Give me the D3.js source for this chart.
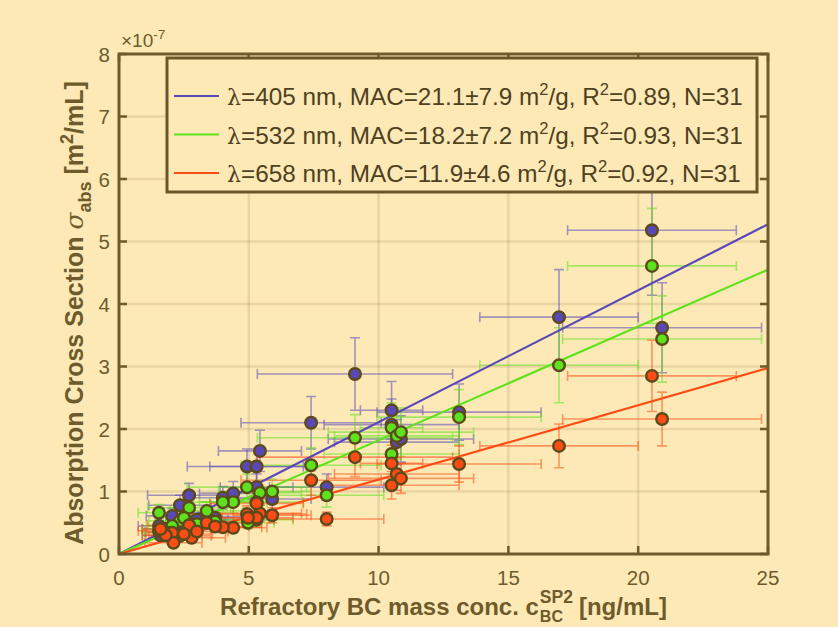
<!DOCTYPE html>
<html>
<head>
<meta charset="utf-8">
<script src="https://cdn.jsdelivr.net/npm/d3@7"></script>
<style>
  html, body { margin: 0; padding: 0; background: #fde9b6; }
  svg { display: block; }
  text { font-family: "Liberation Sans", Arial, Helvetica, sans-serif; }
</style>
</head>
<body>
<svg id="chart" width="838" height="627"></svg>
<script>
// Refractory BC mass concentration (ng/mL) and its uncertainty
const bcConc = [20.53, 20.92, 16.95, 13.10, 9.09, 10.50, 10.50, 10.70, 10.86, 7.40, 8.00,
                5.43, 4.93, 5.30, 5.30, 5.90, 4.40, 4.00, 2.70, 2.35, 1.54, 2.05, 2.10,
                3.38, 2.80, 4.97, 1.80, 3.00, 1.60, 3.70, 2.50];
const bcErr  = [3.25, 3.83, 3.05, 3.16, 3.76, 1.20, 2.60, 2.40, 2.80, 2.70, 2.20,
                1.60, 2.30, 1.80, 1.40, 1.50, 1.30, 1.50, 1.60, 1.20, 0.80, 1.00, 1.10,
                1.40, 1.30, 1.00, 0.90, 1.20, 0.70, 1.30, 1.10];

// Absorption cross section (x1e-7 m^2/mL) per wavelength
const abs405 = [5.18, 3.62, 3.79, 2.27, 2.88, 2.30, 2.07, 1.79, 1.84, 2.10, 1.07,
                1.65, 1.40, 1.40, 1.07, 0.88, 0.97, 0.90, 0.94, 0.78, 0.45, 0.61, 0.35,
                0.60, 0.50, 0.55, 0.40, 0.55, 0.30, 0.58, 0.45];
const err405 = [1.04, 0.72, 0.76, 0.45, 0.58, 0.46, 0.41, 0.36, 0.37, 0.42, 0.21,
                0.33, 0.28, 0.28, 0.21, 0.18, 0.19, 0.18, 0.19, 0.16, 0.09, 0.12, 0.07,
                0.12, 0.10, 0.11, 0.08, 0.11, 0.06, 0.12, 0.09];
const abs532 = [4.61, 3.44, 3.02, 2.19, 1.86, 2.02, 1.60, 1.89, 1.95, 1.42, 0.94,
                0.98, 1.07, 0.83, 0.55, 1.00, 0.83, 0.83, 0.74, 0.53, 0.66, 0.45, 0.30,
                0.69, 0.40, 0.50, 0.35, 0.48, 0.40, 0.52, 0.58];
const err532 = [0.92, 0.69, 0.60, 0.44, 0.37, 0.40, 0.32, 0.38, 0.39, 0.28, 0.19,
                0.20, 0.21, 0.17, 0.11, 0.20, 0.17, 0.17, 0.15, 0.11, 0.13, 0.09, 0.06,
                0.14, 0.08, 0.10, 0.07, 0.10, 0.08, 0.10, 0.12];
const abs658 = [2.85, 2.16, 1.73, 1.44, 1.55, 1.45, 1.10, 1.28, 1.21, 1.18, 0.56,
                0.65, 0.64, 0.81, 0.58, 0.62, 0.42, 0.43, 0.46, 0.29, 0.37, 0.34, 0.18,
                0.50, 0.26, 0.58, 0.30, 0.36, 0.40, 0.44, 0.32];
const err658 = [0.57, 0.43, 0.35, 0.29, 0.31, 0.29, 0.22, 0.26, 0.24, 0.24, 0.11,
                0.13, 0.13, 0.16, 0.12, 0.12, 0.08, 0.09, 0.09, 0.06, 0.07, 0.07, 0.04,
                0.10, 0.05, 0.12, 0.06, 0.07, 0.08, 0.09, 0.06];

// Fitted mass absorption cross sections (m^2/g) and fit statistics
const wavelengths = [405, 532, 658];
const macValues   = [21.1, 18.2, 11.9];
const macErrors   = [7.9, 7.2, 4.6];
const r2Values    = [0.89, 0.93, 0.92];
const nValues     = [31, 31, 31];

const xTicks = [0, 5, 10, 15, 20, 25];
const yTicks = [0, 1, 2, 3, 4, 5, 6, 7, 8];

const colors = ["#5a48b8", "#5ee21c", "#ff4c14"];
const series = [
  { y: abs405, e: err405 },
  { y: abs532, e: err532 },
  { y: abs658, e: err658 }
];

const ink = "#6e5b2c";
const margin = { left: 119, right: 838 - 768, top: 54, bottom: 627 - 554 };
const W = 838, H = 627;

const svg = d3.select("#chart");
const x = d3.scaleLinear().domain([0, 25]).range([margin.left, W - margin.right]);
const y = d3.scaleLinear().domain([0, 8]).range([H - margin.bottom, margin.top]);

// grid
const grid = svg.append("g");
grid.selectAll(".gx").data(xTicks.slice(1, -1)).join("line")
  .attr("x1", d => x(d)).attr("x2", d => x(d))
  .attr("y1", y(0)).attr("y2", y(8))
  .attr("stroke", "#8a7a50").attr("stroke-opacity", 0.18).attr("stroke-width", 2.5);
grid.selectAll(".gy").data(yTicks.slice(1, -1)).join("line")
  .attr("y1", d => y(d)).attr("y2", d => y(d))
  .attr("x1", x(0)).attr("x2", x(25))
  .attr("stroke", "#8a7a50").attr("stroke-opacity", 0.18).attr("stroke-width", 2.5);

// error bars
const cap = 5;
series.forEach((s, k) => {
  const g = svg.append("g")
    .attr("stroke", colors[k]).attr("stroke-opacity", 0.55)
    .attr("stroke-width", 1.6).attr("fill", "none");
  bcConc.forEach((c, i) => {
    const cy = y(s.y[i]);
    const xl = x(c - bcErr[i]), xr = x(c + bcErr[i]);
    const yt = y(s.y[i] + s.e[i]), yb = y(s.y[i] - s.e[i]);
    const cx = x(c);
    g.append("path").attr("d",
      `M${xl},${cy}H${xr}M${xl},${cy - cap}V${cy + cap}M${xr},${cy - cap}V${cy + cap}` +
      `M${cx},${yt}V${yb}M${cx - cap},${yt}H${cx + cap}M${cx - cap},${yb}H${cx + cap}`);
  });
});

// fit lines through the origin
const fitLine = d3.line().x(d => x(d[0])).y(d => y(d[1]));
macValues.forEach((m, k) => {
  // MAC [m^2/g] * c [ng/mL] = sigma in 1e-9 m^2/mL -> 1e-7 units
  const pts = [[0, 0], [25, m * 25 / 100]];
  svg.append("path").attr("d", fitLine(pts))
    .attr("stroke", colors[k]).attr("stroke-width", 2.2).attr("fill", "none");
});

// markers
series.forEach((s, k) => {
  svg.append("g").selectAll("circle").data(bcConc).join("circle")
    .attr("cx", d => x(d)).attr("cy", (d, i) => y(s.y[i])).attr("r", 5.8)
    .attr("fill", colors[k]).attr("stroke", "#5c4a1c").attr("stroke-width", 2.4);
});

// axes box and ticks
const axisG = svg.append("g");
const tl = 8;
axisG.selectAll(".tx").data(xTicks).join("path")
  .attr("d", d => `M${x(d)},${y(0)}V${y(0) - tl}M${x(d)},${y(8)}V${y(8) + tl}`)
  .attr("stroke", ink).attr("stroke-width", 2.5);
axisG.selectAll(".ty").data(yTicks).join("path")
  .attr("d", d => `M${x(0)},${y(d)}H${x(0) + tl}M${x(25)},${y(d)}H${x(25) - tl}`)
  .attr("stroke", ink).attr("stroke-width", 2.5);
axisG.append("rect")
  .attr("x", x(0)).attr("y", y(8)).attr("width", x(25) - x(0)).attr("height", y(0) - y(8))
  .attr("fill", "none").attr("stroke", ink).attr("stroke-width", 3);

// tick labels
svg.append("g").selectAll("text").data(xTicks).join("text")
  .attr("x", d => x(d)).attr("y", y(0) + 31)
  .attr("text-anchor", "middle").attr("font-size", 20.5).attr("fill", ink)
  .text(d => d);
svg.append("g").selectAll("text").data(yTicks).join("text")
  .attr("x", x(0) - 9).attr("y", d => y(d) + 7.5)
  .attr("text-anchor", "end").attr("font-size", 20.5).attr("fill", ink)
  .text(d => d);

// exponent marker
const ex = svg.append("text").attr("x", x(0) + 2).attr("y", y(8) - 7)
  .attr("font-size", 19).attr("fill", ink);
ex.append("tspan").text("\u00d710");
ex.append("tspan").attr("dy", -8).attr("font-size", 13.5).text("-7");

// x axis title
const xt = svg.append("g").attr("fill", ink).attr("font-weight", "bold");
const xMain = xt.append("text").attr("y", 615).attr("font-size", 24).text("Refractory BC mass conc. c");
const mainW = xMain.node().getComputedTextLength();
const supT = xt.append("text").attr("y", 603).attr("font-size", 17.5).text("SP2");
const supW = supT.node().getComputedTextLength();
const subT = xt.append("text").attr("y", 622).attr("font-size", 16).text("BC");
const gap = 7;
const tailT = xt.append("text").attr("y", 615).attr("font-size", 24).text("[ng/mL]");
const tailW = tailT.node().getComputedTextLength();
const totalW = mainW + supW + gap + tailW;
const x0 = (x(0) + x(25)) / 2 - totalW / 2;
xMain.attr("x", x0);
supT.attr("x", x0 + mainW + 1);
subT.attr("x", x0 + mainW + 1);
tailT.attr("x", x0 + mainW + supW + gap);

// y axis title
const yt = svg.append("text")
  .attr("transform", `translate(83,${(y(0) + y(8)) / 2 + 9}) rotate(-90)`)
  .attr("text-anchor", "middle").attr("font-size", 25).attr("font-weight", "bold")
  .attr("fill", ink);
yt.append("tspan").text("Absorption Cross Section ");
yt.append("tspan").attr("font-weight", "normal").attr("font-style", "italic")
  .attr("font-family", "DejaVu Serif, serif").text("\u03c3");
yt.append("tspan").attr("dy", 8).attr("font-size", 18).text("abs");
yt.append("tspan").attr("dy", -8).text(" [m");
yt.append("tspan").attr("dy", -10).attr("font-size", 18).text("2");
yt.append("tspan").attr("dy", 10).text("/mL]");

// legend
const lg = svg.append("g");
lg.append("rect").attr("x", 167).attr("y", 58).attr("width", 590).attr("height", 134)
  .attr("fill", "#fde9b6").attr("stroke", "#6a5628").attr("stroke-width", 3);
wavelengths.forEach((w, k) => {
  const ry = 96 + k * 38.5;
  lg.append("line").attr("x1", 174).attr("x2", 219).attr("y1", ry).attr("y2", ry)
    .attr("stroke", colors[k]).attr("stroke-width", 2.2);
  const t = lg.append("text").attr("x", 227).attr("y", ry + 9)
    .attr("font-size", 24.3).attr("fill", "#4e4120");
  t.append("tspan").attr("font-family", "DejaVu Serif, serif").attr("font-size", 22).text("\u03bb");
  t.append("tspan").text(`=${w} nm, MAC=${macValues[k].toFixed(1)}\u00b1${macErrors[k].toFixed(1)} m`);
  t.append("tspan").attr("dy", -10).attr("font-size", 16.5).text("2");
  t.append("tspan").attr("dy", 10).text("/g, R");
  t.append("tspan").attr("dy", -10).attr("font-size", 16.5).text("2");
  t.append("tspan").attr("dy", 10).text(`=${r2Values[k].toFixed(2)}, N=${nValues[k]}`);
});
</script>
</body>
</html>
